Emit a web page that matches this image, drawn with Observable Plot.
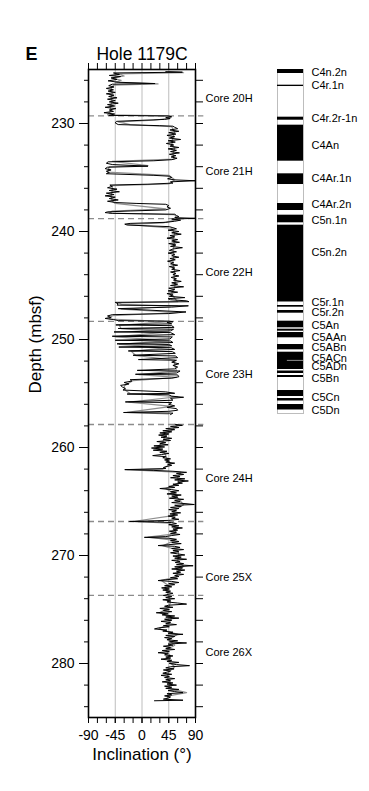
<!DOCTYPE html>
<html><head><meta charset="utf-8">
<script src="https://cdn.jsdelivr.net/npm/d3@7"></script>
<script src="https://cdn.jsdelivr.net/npm/@observablehq/plot@0.6"></script>
<style>
body{margin:0;background:#fff}
#wrap{position:relative;width:369px;height:791px;font-family:"Liberation Sans",Arial,Helvetica,sans-serif}
#wrap svg{position:absolute;left:0;top:0}
</style></head><body><div id="wrap"></div>
<script>
// ---------- data ----------
const panelLetter = "E";
const holeTitle = "Hole 1179C";
const depthLabel = "Depth (mbsf)";
const incLabel = "Inclination (°)";

const incTickLabels = [-90, -45, 0, 45, 90];
const incMinorTicks = [-90, -75, -60, -45, -30, -15, 0, 15, 30, 45, 60, 75, 90];
const gridInc = [-45, 0, 45];
const depthTickLabels = [230, 240, 250, 260, 270, 280];
const depthMinorTicks = [226,228,230,232,234,236,238,240,242,244,246,248,250,252,254,256,258,260,262,264,266,268,270,272,274,276,278,280,282,284];

const coreBreaks = [229.3, 238.8, 248.33, 257.87, 266.85, 273.7];
const coreNames = ["Core 20H", "Core 21H", "Core 22H", "Core 23H", "Core 24H", "Core 25X", "Core 26X"];
const coreLabelDepths = [227.7, 234.4, 243.8, 253.2, 262.9, 272.0, 279.0];

// inclination record, [depth (mbsf), inclination (deg)]
const blackCurve = [
[225.20,40],[225.25,68],[225.32,-48],[225.45,-38],[225.55,-55],[225.65,-36],[225.78,-52],[225.92,-42],[226.05,-57],[226.18,-40],[226.30,22],[226.36,-50],[226.50,-56],[226.62,-47],[226.75,-60],[226.88,-48],[227.00,-57],[227.12,-45],[227.25,-60],[227.38,-47],[227.50,-56],[227.62,-42],[227.75,-58],[227.88,-45],[228.00,-55],[228.12,-40],[228.25,-58],[228.38,-46],[228.50,-62],[228.62,-44],[228.75,-55],[228.88,-48],[229.00,-64],[229.12,-46],[229.25,-56],
[229.30,44],[229.38,50],[229.45,40],[229.55,47],[229.62,38],[229.80,-43],[229.95,-45],[230.10,-40],[230.20,30],[230.25,52],
[230.35,55],[230.48,60],[230.60,47],[230.72,62],[230.85,45],[230.98,57],[231.10,42],[231.22,55],[231.35,46],[231.48,65],[231.60,44],[231.72,56],[231.85,41],[231.98,53],[232.10,47],[232.22,62],[232.35,44],[232.48,58],[232.60,48],[232.72,63],[232.85,46],[232.98,57],[233.10,49],[233.22,59],[233.35,50],[233.45,20],
[233.55,-57],[233.68,-60],[233.80,-50],[233.95,10],[234.05,-58],[234.18,-62],[234.30,-52],[234.42,-60],[234.55,-55],[234.65,-60],[234.80,20],[234.88,46],[235.00,50],[235.12,43],[235.22,55],[235.30,90],[235.40,48],[235.52,52],[235.62,10],[235.70,-54],
[235.82,-50],[235.95,-58],[236.08,-42],[236.20,-55],[236.32,-38],[236.45,-60],[236.58,-47],[236.70,-62],[236.82,-45],[236.95,-55],[237.08,-40],[237.20,-58],[237.32,-44],[237.40,-10],[237.48,40],[237.60,45],[237.72,42],[237.85,48],[238.00,40],[238.10,-20],[238.18,-58],[238.25,-62],[238.32,-50],[238.40,55],[238.52,58],[238.62,62],[238.72,55],[238.78,90],[238.85,50],[238.95,65],[239.05,55],[239.15,40],[239.25,-20],[239.32,-29],[239.40,-25],[239.48,10],[239.55,46],
[239.65,52],[239.75,58],[239.88,44],[240.00,62],[240.12,50],[240.25,66],[240.38,47],[240.50,55],[240.62,42],[240.75,60],[240.88,50],[241.00,63],[241.12,45],[241.25,57],[241.38,48],[241.50,68],[241.62,52],[241.75,46],[241.88,58],[242.00,44],[242.12,55],[242.25,50],[242.38,62],[242.50,47],[242.62,56],[242.75,43],[242.88,53],[243.00,48],[243.12,60],[243.25,46],[243.38,55],[243.50,50],[243.62,64],[243.75,48],[243.88,57],[244.00,52],[244.12,62],[244.25,49],[244.38,58],[244.50,53],[244.62,66],[244.75,50],[244.88,60],[245.00,48],[245.12,70],[245.25,45],[245.38,55],[245.50,44],[245.62,60],[245.75,42],[245.88,52],[246.00,46],[246.12,72],[246.22,44],[246.32,48],[246.42,75],
[246.50,79],[246.56,-45],[246.70,-40],[246.82,-42],[246.88,78],[247.00,50],[247.14,-40],[247.45,74],[247.60,45],[247.70,-50],[247.82,-58],[247.95,-52],[248.05,-62],[248.15,-48],[248.25,-40],[248.30,45],[248.36,52],[248.42,42],
[248.55,50],[248.65,-44],[248.72,50],[248.88,54],[248.98,-40],[249.05,53],[249.20,48],[249.30,-47],[249.36,48],[249.55,55],[249.70,-50],[249.76,51],[249.95,47],[250.07,-45],[250.14,48],[250.28,52],[250.40,-42],[250.46,45],[250.58,50],[250.70,-39],[250.76,49],[250.92,55],[251.06,-23],[251.12,51],[251.28,56],[251.46,-15],[251.52,56],[251.68,60],[251.86,-6],[251.92,58],[252.10,50],[252.25,62],[252.40,52],[252.55,60],[252.72,55],[252.86,-8],[252.92,64],[253.10,58],[253.22,-11],[253.28,60],[253.45,62],[253.58,50],
[253.72,-20],[253.85,-17],[253.98,-30],[254.12,-22],[254.25,-36],[254.40,-33],[254.55,-28],[254.68,-32],[254.85,40],[254.98,55],[255.05,-25],[255.12,45],[255.25,50],[255.35,70],[255.45,48],[255.62,52],[255.78,-28],[255.84,50],[256.00,45],[256.15,55],[256.28,42],[256.40,58],[256.55,60],[256.65,45],[256.76,-31],[256.82,52],[256.95,48],
[257.30,NaN],
[257.85,55],[257.95,68],[258.05,48],[258.15,62],[258.25,40],[258.35,55],[258.45,35],[258.55,50],[258.65,30],[258.75,45],[258.85,28],[258.95,42],[259.05,32],[259.15,50],[259.25,36],[259.35,48],[259.45,25],[259.55,40],[259.65,30],[259.75,44],[259.85,20],[259.95,38],[260.05,16],[260.15,35],[260.25,19],[260.35,42],[260.45,30],[260.55,45],[260.65,33],[260.75,18],[260.85,40],[260.95,35],[261.05,48],[261.15,38],[261.25,46],[261.35,40],[261.45,55],[261.55,43],[261.65,50],[261.75,42],[261.85,36],[261.95,40],[262.05,-29],[262.12,20],[262.20,52],
[262.30,75],[262.40,58],[262.50,70],[262.60,52],[262.70,64],[262.80,48],[262.90,72],[263.00,55],[263.10,78],[263.20,60],[263.30,68],[263.40,52],[263.50,62],[263.60,45],[263.70,55],[263.80,30],[263.90,50],[264.00,62],[264.10,48],[264.20,58],[264.30,42],[264.40,66],[264.50,50],[264.60,60],[264.70,46],[264.80,70],[264.90,55],[265.00,64],[265.10,50],[265.20,74],[265.28,88],[265.35,55],[265.45,66],[265.55,48],[265.65,62],[265.75,45],[265.85,58],[265.95,50],[266.05,65],[266.15,47],[266.25,60],[266.35,44],[266.45,56],[266.55,50],[266.65,62],[266.75,45],[266.85,-21],[266.90,30],[266.95,50],
[267.05,58],[267.15,45],[267.25,62],[267.35,50],[267.45,68],[267.55,52],[267.65,60],[267.75,46],[267.85,58],[267.95,48],[268.05,64],[268.15,50],[268.25,40],[268.32,4],[268.40,45],[268.50,58],[268.60,48],[268.70,62],[268.80,50],[268.90,66],[269.00,45],[269.08,27],[269.15,55],[269.25,64],[269.35,50],[269.45,70],[269.55,52],[269.65,62],[269.75,48],
[269.85,60],[269.95,72],[270.05,52],[270.15,66],[270.25,55],[270.35,75],[270.45,50],[270.55,64],[270.65,56],[270.75,70],[270.85,58],[270.95,86],[271.05,55],[271.15,68],[271.25,50],[271.35,72],[271.45,58],[271.55,65],[271.65,52],[271.75,70],[271.85,55],[271.95,62],[272.05,48],[272.15,60],[272.25,40],[272.32,27],[272.40,50],[272.50,62],[272.60,45],[272.70,55],[272.80,38],[272.90,50],[273.00,33],[273.10,46],[273.20,35],[273.30,48],[273.40,40],[273.50,52],[273.60,44],[273.70,36],
[273.80,50],[273.90,40],[274.00,55],[274.10,35],[274.20,48],[274.30,42],[274.40,60],[274.50,75],[274.60,45],[274.70,38],[274.80,52],[274.90,30],[275.00,46],[275.10,36],[275.20,50],[275.30,24],[275.40,44],[275.50,34],[275.60,55],[275.70,40],[275.80,62],[275.90,38],[276.00,50],[276.10,32],[276.20,48],[276.30,40],[276.40,58],[276.50,36],[276.60,46],[276.70,28],[276.80,21],[276.90,42],[277.00,35],[277.10,52],[277.20,44],[277.30,69],[277.40,40],[277.50,55],[277.60,38],[277.70,50],[277.80,42],[277.90,60],[278.00,46],[278.10,75],[278.20,44],[278.30,52],[278.40,36],[278.50,48],[278.60,40],[278.70,55],[278.80,34],[278.90,46],[279.00,27],[279.10,44],[279.20,38],[279.30,52],[279.40,40],[279.50,48],[279.60,32],[279.70,50],[279.80,42],[279.90,62],[280.00,46],[280.10,58],[280.20,80],[280.30,48],[280.40,40],[280.50,54],[280.60,36],[280.70,48],[280.80,42],[280.90,35],[281.00,50],[281.10,32],[281.20,46],[281.30,38],[281.40,55],[281.50,40],[281.60,48],[281.70,34],[281.80,52],[281.90,42],[282.00,58],[282.10,38],[282.20,50],[282.30,40],[282.40,62],[282.50,44],[282.60,55],[282.70,69],[282.80,42],[282.90,50],[283.00,38],[283.10,48],[283.20,44],[283.30,36],[283.40,69],[283.45,21]
];

const greyCurve = [
[225.2,45],[225.3,70],[225.4,-40],[225.6,-30],[225.8,-50],[226.0,-35],[226.2,-45],[226.33,27],[226.45,-48],[226.8,-52],[227.2,-50],[227.6,-52],[228.0,-50],[228.4,-54],[228.8,-52],[229.2,-58],[229.3,45],[229.5,48],[229.7,20],[229.85,-40],[230.1,-20],[230.3,50],[230.8,55],[231.3,52],[231.8,50],[232.3,55],[232.8,52],[233.3,54],[233.5,-50],[233.9,10],[234.0,-55],[234.5,-58],[234.8,45],[235.2,55],[235.6,45],[235.75,-50],[236.2,-50],[236.7,-52],[237.2,-50],[237.4,-45],[237.9,40],[238.1,-50],[238.3,-55],[238.45,55],[238.9,60],[239.2,35],[239.35,-25],[239.55,20],[239.7,50],[240.2,55],[240.7,52],[241.2,55],[241.7,52],[242.2,54],[242.7,52],[243.2,53],[243.7,55],[244.2,54],[244.7,56],[245.2,55],[245.7,50],[246.2,55],[246.5,60],[246.6,-40],[246.75,-35],[246.9,60],[247.2,-35],[247.5,60],[247.8,-50],[248.1,-55],[248.35,45],[248.7,-38],[249.0,-35],[249.3,45],[249.75,-45],[250.1,45],[250.45,-38],[250.75,45],[251.1,-18],[251.5,-10],[251.9,55],[252.4,55],[252.9,58],[253.25,-5],[253.5,58],[253.8,-15],[254.3,-30],[254.7,-28],[255.0,-20],[255.3,60],[255.8,-22],[256.2,50],[256.75,-25],[256.9,45],
[257.3,NaN],
[257.9,60],[258.5,48],[259.0,38],[259.5,35],[260.0,25],[260.5,38],[261.0,42],[261.5,48],[262.0,35],[262.06,-25],[262.3,65],[262.8,60],[263.3,62],[263.8,40],[264.3,55],[264.8,62],[265.3,70],[265.8,55],[266.3,52],[266.85,-15],[267.0,45],[267.5,58],[268.0,55],[268.3,10],[268.6,55],[269.1,35],[269.5,60],[270.0,62],[270.5,60],[271.0,70],[271.5,60],[272.0,58],[272.3,32],[272.8,45],[273.3,42],[273.8,45],[274.3,48],[274.8,45],[275.3,30],[275.8,50],[276.3,45],[276.8,28],[277.3,60],[277.8,45],[278.3,55],[278.8,40],[279.3,48],[279.8,45],[280.3,55],[280.8,45],[281.3,42],[281.8,48],[282.3,45],[282.7,75],[283.0,45],[283.4,40]
];

// polarity column (nominal age units), normal-polarity intervals
const normalTops    = [7.700, 8.147, 9.059, 9.287, 10.673, 11.519, 11.852, 12.137, 14.426, 14.569, 14.873, 15.101, 15.196, 15.538, 15.757, 16.293, 16.421, 16.849, 17.077, 17.248];
const normalBottoms = [7.814, 8.185, 9.145, 10.313, 10.978, 11.719, 12.069, 14.326, 14.474, 14.645, 15.062, 15.158, 15.347, 15.689, 16.250, 16.364, 16.478, 17.020, 17.148, 17.404];
const columnRange = [7.700, 17.504];
const cryptoMarks = [15.99];
const chronNames = ["C4n.2n","C4r.1n","C4r.2r-1n","C4An","C4Ar.1n","C4Ar.2n","C5n.1n","C5n.2n","C5r.1n","C5r.2n","C5An","C5AAn","C5ABn","C5ACn","C5ADn","C5Bn","C5Cn","C5Dn"];
const chronLabelAges = [7.777, 8.156, 9.105, 9.866, 10.815, 11.556, 12.004, 12.907, 14.332, 14.617, 14.996, 15.330, 15.632, 15.945, 16.156, 16.515, 17.039, 17.418];

// ---------- drawing ----------
const W = 369, H = 791;
const FONT = "'Liberation Sans', Arial, Helvetica, sans-serif";
const dep = d => d[0], inc = d => d[1];
const blank = () => "";

const main = Plot.plot({
  width: W, height: H,
  marginTop: 69, marginBottom: 74, marginLeft: 88, marginRight: 174,
  style: {fontFamily: FONT, fontSize: "14px", background: "transparent", color: "black"},
  x: {domain: [-90, 90]},
  y: {domain: [225, 285], reverse: true},
  marks: [
    Plot.ruleX(gridInc, {stroke: "#bdbdbd", strokeWidth: 1}),
    Plot.ruleY(coreBreaks, {x1: -90, x2: 104, stroke: "#8c8c8c", strokeWidth: 1.3, strokeDasharray: "6,4"}),
    Plot.line(greyCurve, {x: inc, y: dep, stroke: "#8f8f8f", strokeWidth: 1.2}),
    Plot.line(blackCurve, {x: inc, y: dep, stroke: "black", strokeWidth: 1}),
    Plot.frame({stroke: "black", strokeWidth: 1.6}),
    Plot.axisX({anchor: "top", ticks: incMinorTicks, tickSize: 7, tickFormat: blank, label: null}),
    Plot.axisX({anchor: "bottom", ticks: incMinorTicks, tickSize: 6, tickFormat: blank, label: null}),
    Plot.axisX({anchor: "bottom", ticks: incTickLabels, tickSize: 6, tickPadding: 7, tickFormat: d => String(d), label: null, fontSize: 14}),
    Plot.axisY({anchor: "left", ticks: depthMinorTicks, tickSize: 4, tickFormat: blank, label: null}),
    Plot.axisY({anchor: "left", ticks: depthTickLabels, tickSize: 9, tickPadding: 5, tickFormat: d => String(d), label: null, fontSize: 14}),
    Plot.axisY({anchor: "right", ticks: depthMinorTicks, tickSize: 7, tickFormat: blank, label: null}),
    Plot.text(coreNames, {y: (d, i) => coreLabelDepths[i], text: d => d, frameAnchor: "right", dx: 10, textAnchor: "start", fontSize: 11}),
    Plot.text([holeTitle], {frameAnchor: "top", dy: -22, fontSize: 17.5}),
    Plot.text([panelLetter], {frameAnchor: "top-left", dx: -63, dy: -22, fontSize: 18, fontWeight: "bold"}),
    Plot.text([depthLabel], {frameAnchor: "left", dx: -53, rotate: -90, fontSize: 17}),
    Plot.text([incLabel], {frameAnchor: "bottom", dy: 42, fontSize: 17})
  ]
});

const normals = normalTops.map((t, i) => ({top: t, bottom: normalBottoms[i]}));
const pol = Plot.plot({
  width: W, height: H,
  marginTop: 69, marginBottom: H - 413, marginLeft: 277, marginRight: W - 303,
  style: {fontFamily: FONT, fontSize: "11px", background: "transparent", color: "black"},
  x: {domain: [0, 1], axis: null},
  y: {domain: columnRange, reverse: true, axis: null},
  marks: [
    Plot.frame({stroke: "#bdbdbd", strokeWidth: 1}),
    Plot.rect(normals, {x1: 0, x2: 1, y1: "top", y2: "bottom", fill: "black"}),
    Plot.ruleY(cryptoMarks, {x1: 0.38, x2: 1, stroke: "#8f8f8f", strokeWidth: 1}),
    Plot.text(chronNames, {x: 1, y: (d, i) => chronLabelAges[i], text: d => d, dx: 8, textAnchor: "start", fontSize: 11})
  ]
});

const wrap = document.getElementById("wrap");
wrap.appendChild(main);
wrap.appendChild(pol);
</script>
</body></html>
